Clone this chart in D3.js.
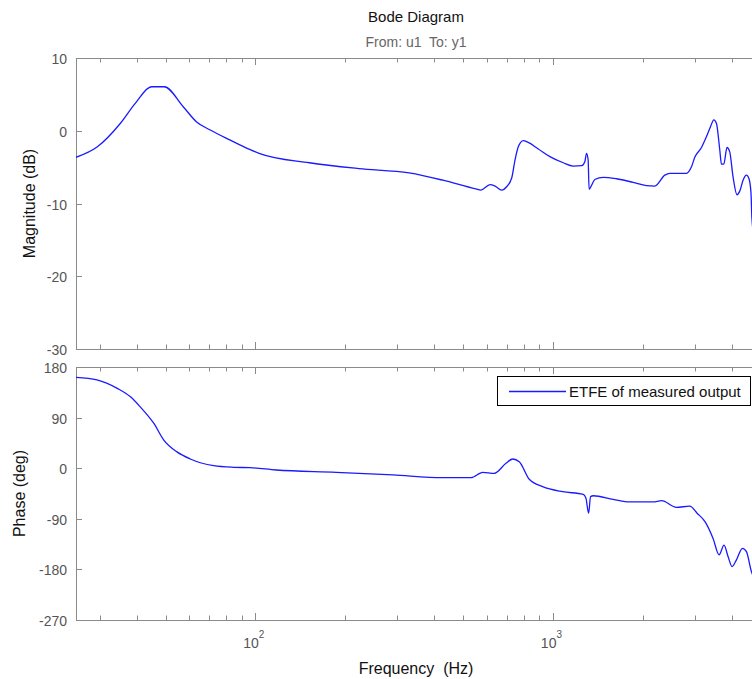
<!DOCTYPE html>
<html>
<head>
<meta charset="utf-8">
<script src="https://cdn.jsdelivr.net/npm/d3@7"></script>
<style>
  html, body { margin: 0; padding: 0; background: #fff; }
  svg { display: block; font-family: "Liberation Sans", Arial, sans-serif; }
  svg text { white-space: pre; }
</style>
</head>
<body>
<svg id="chart" width="752" height="679"></svg>
<script>
// Frequency response estimate (ETFE) of the measured output, u1 -> y1
const magFreq = [25, 29.5, 35.2, 39.6, 44.8, 49.5, 57.3, 63.4, 70.6, 82.5, 96.2, 103, 152, 223, 329, 427, 551, 573,
  615, 639, 673, 699, 727, 746, 765, 795, 826, 893, 977, 1083, 1170, 1249, 1280, 1297, 1313, 1323, 1348, 1383,
  1475, 1636, 1860, 2062, 2199, 2376, 2470, 2810, 2920, 2996, 3155, 3280, 3383, 3470, 3543, 3635, 3683, 3748,
  3845, 3926, 4027, 4155, 4242, 4352, 4467, 4557, 4628, 4660, 4800];
const magDb = [-3.65, -2.2, 1.0, 3.8, 6.05, 6.05, 3.3, 1.25, 0.1, -1.3, -2.6, -3.1, -4.4, -5.2, -5.8, -6.8, -8.0, -8.15,
  -7.4, -7.6, -8.15, -7.7, -6.5, -4.0, -2.2, -1.35, -1.6, -2.5, -3.55, -4.4, -4.85, -4.8, -4.25, -3.1, -4.0, -8.05, -7.5, -6.7,
  -6.4, -6.6, -7.1, -7.55, -7.6, -6.1, -5.85, -5.85, -4.95, -3.65, -2.3, -0.8, 0.55, 1.5, 1.0, -2.65, -4.6, -4.6,
  -2.3, -2.9, -6.3, -8.8, -8.3, -6.8, -6.1, -6.6, -8.6, -12, -16];

const phaseFreq = [25, 29.4, 34.4, 38.1, 41.1, 45.6, 49.3, 54.6, 60.5, 72.5, 84.6, 96.2, 117.6, 187, 290, 426.6, 530.7,
  581, 635, 695.5, 732.6, 770.8, 832.6, 923.7, 1078, 1264, 1291, 1318, 1338, 1366, 1594, 1813, 2171, 2317, 2601,
  2883, 3050, 3250, 3451, 3615, 3757, 3875, 3997, 4135, 4331, 4467, 4643, 4800];
const phaseDeg = [161.7, 157, 142, 127, 109, 80, 50, 29, 16.4, 4.5, 1.6, 0.9, -3.2, -7.3, -12, -16.9, -16.9,
  -7.3, -9.1, 8.7, 16.4, 11.6, -19.7, -32.9, -41.8, -46.5, -53.6, -80, -50.6, -49, -55.4, -60, -60, -57.8, -69.6,
  -67.5, -80, -96, -125, -154, -137, -157, -175, -163, -142.5, -148.5, -184, -200];

const magTicks = [-30, -20, -10, 0, 10];
const phaseTicks = [-270, -180, -90, 0, 90, 180];
const freqMajor = [100, 1000];
const freqMinor = [30, 40, 50, 60, 70, 80, 90, 200, 300, 400, 500, 600, 700, 800, 900, 2000, 3000, 4000, 5000];
const freqExponents = ["2", "3"];

const titleText = "Bode Diagram";
const subtitleText = "From: u1  To: y1";
const xLabel = "Frequency  (Hz)";
const magLabel = "Magnitude (dB)";
const phaseLabel = "Phase (deg)";
const legendText = "ETFE of measured output";

const svg = d3.select("#chart");
const axisGray = "#8a8a8a";
const labelGray = "#555";
const lineBlue = "#1a1aff";

const x = d3.scaleLog().domain([25, 5000]).range([76, 761]);
const yMag = d3.scaleLinear().domain([-30, 10]).range([349, 58]);
const yPh = d3.scaleLinear().domain([-270, 180]).range([620, 367]);

// Titles
svg.append("text").attr("x", 416).attr("y", 22).attr("text-anchor", "middle")
  .attr("font-size", 15).attr("fill", "#111").text(titleText);
svg.append("text").attr("x", 416).attr("y", 47).attr("text-anchor", "middle")
  .attr("font-size", 14).attr("fill", "#666").text(subtitleText);

function drawPanel(y, yTicks, id) {
  const [y0, y1] = y.range(); // bottom, top
  const [x0, x1] = x.range();
  const g = svg.append("g");

  svg.append("clipPath").attr("id", id).append("rect")
    .attr("x", x0).attr("y", y1).attr("width", x1 - x0).attr("height", y0 - y1);

  // box
  g.append("rect").attr("x", x0 + 0.5).attr("y", y1 + 0.5)
    .attr("width", x1 - x0).attr("height", y0 - y1)
    .attr("fill", "none").attr("stroke", axisGray).attr("stroke-width", 1);

  // x ticks, inward on bottom and top
  const tick = (f, len) => {
    const px = Math.round(x(f)) + 0.5;
    g.append("line").attr("x1", px).attr("x2", px).attr("y1", y0).attr("y2", y0 - len)
      .attr("stroke", axisGray);
    g.append("line").attr("x1", px).attr("x2", px).attr("y1", y1).attr("y2", y1 + len)
      .attr("stroke", axisGray);
  };
  freqMajor.forEach(f => tick(f, 7));
  freqMinor.forEach(f => tick(f, 4.5));

  // y ticks and labels
  yTicks.forEach(v => {
    const py = Math.round(y(v)) + 0.5;
    g.append("line").attr("x1", x0).attr("x2", x0 + 6).attr("y1", py).attr("y2", py)
      .attr("stroke", axisGray);
    g.append("line").attr("x1", x1).attr("x2", x1 - 6).attr("y1", py).attr("y2", py)
      .attr("stroke", axisGray);
    g.append("text").attr("x", x0 - 9).attr("y", py + 5)
      .attr("text-anchor", "end").attr("font-size", 14).attr("fill", labelGray).text(v);
  });
  return g;
}

drawPanel(yMag, magTicks, "clipMag");
drawPanel(yPh, phaseTicks, "clipPh");

// curves
const magLine = d3.line().x(d => x(d[0])).y(d => yMag(d[1])).curve(d3.curveMonotoneX);
const phLine = d3.line().x(d => x(d[0])).y(d => yPh(d[1])).curve(d3.curveMonotoneX);

svg.append("path").attr("clip-path", "url(#clipMag)")
  .attr("d", magLine(magFreq.map((f, i) => [f, magDb[i]])))
  .attr("fill", "none").attr("stroke", lineBlue).attr("stroke-width", 1.3);
svg.append("path").attr("clip-path", "url(#clipPh)")
  .attr("d", phLine(phaseFreq.map((f, i) => [f, phaseDeg[i]])))
  .attr("fill", "none").attr("stroke", lineBlue).attr("stroke-width", 1.3);

// decade labels 10^n
freqMajor.forEach((f, i) => {
  const t = svg.append("text").attr("x", x(f) - 1.5).attr("y", 648)
    .attr("text-anchor", "middle").attr("fill", labelGray).attr("font-size", 14);
  t.append("tspan").text("10");
  t.append("tspan").attr("dy", -10).attr("font-size", 10).text(freqExponents[i]);
});

// axis labels
svg.append("text").attr("x", 416).attr("y", 674).attr("text-anchor", "middle")
  .attr("font-size", 16).attr("fill", "#111").text(xLabel);
svg.append("text").attr("transform", "translate(35," + ((58 + 349) / 2) + ") rotate(-90)")
  .attr("text-anchor", "middle").attr("font-size", 16).attr("fill", "#111").text(magLabel);
svg.append("text").attr("transform", "translate(25," + ((367 + 620) / 2) + ") rotate(-90)")
  .attr("text-anchor", "middle").attr("font-size", 16).attr("fill", "#111").text(phaseLabel);

// legend
const lg = svg.append("g");
lg.append("rect").attr("x", 497.5).attr("y", 376.5).attr("width", 253).attr("height", 29)
  .attr("fill", "#fff").attr("stroke", "#000").attr("stroke-width", 1);
lg.append("line").attr("x1", 509).attr("x2", 566).attr("y1", 391.5).attr("y2", 391.5)
  .attr("stroke", lineBlue).attr("stroke-width", 1.3);
lg.append("text").attr("x", 569).attr("y", 397).attr("font-size", 15).attr("fill", "#111").text(legendText);
</script>
</body>
</html>
